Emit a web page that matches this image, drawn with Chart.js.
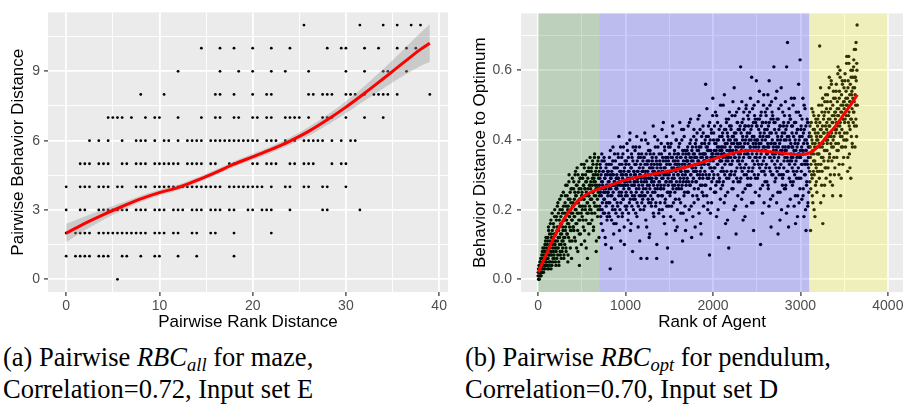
<!DOCTYPE html>
<html>
<head>
<meta charset="utf-8">
<script src="https://cdn.jsdelivr.net/npm/chart.js@4.4.0/dist/chart.umd.min.js"></script>
<style>
  body { margin: 0; background: #fff; width: 907px; height: 405px; position: relative; overflow: hidden; }
  canvas { position: absolute; top: 0; }
  #chartA { left: 0; }
  #chartB { left: 455px; }
  .cap { position: absolute; top: 341px; font-family: "Liberation Serif", serif; font-size: 26.5px; line-height: 32px; color: #000; white-space: nowrap; }
  .cap sub { font-size: 0.7em; vertical-align: -0.28em; line-height: 0; }
</style>
</head>
<body>
<canvas id="chartA" width="455" height="340" style="width:455px;height:340px"></canvas>
<canvas id="chartB" width="452" height="340" style="width:452px;height:340px"></canvas>
<div class="cap" style="left:3px">(a) Pairwise <i>RBC<sub>all</sub></i> for maze,<br>Correlation=0.72, Input set E</div>
<div class="cap" style="left:465px">(b) Pairwise <i>RBC<sub>opt</sub></i> for pendulum,<br>Correlation=0.70, Input set D</div>
<script>
// ---- panel (a): maze, pairwise rank distance vs behavior distance ----
// ranks found at each behavior distance level (row index = behavior distance)
const rankAtLevel = [
  [5.5],
  [0, 1, 1.5, 2, 2.5, 3.5, 4, 4.5, 6, 6.5, 8, 9.5, 10, 12, 14, 18],
  [0, 1, 1.5, 2, 2.5, 3.5, 4, 4.5, 5, 5.5, 6, 6.5, 7, 7.5, 8, 8.5, 9.5, 10, 10.5, 11.5, 12, 13.5, 14, 15.5, 16, 18, 22],
  [0, 1.5, 2, 3.5, 4, 4.5, 5, 5.5, 6, 6.5, 7.5, 8, 8.5, 9.5, 10, 10.5, 11.5, 12, 12.5, 13.5, 14, 14.5, 15.5, 16, 16.5, 17.5, 18, 19.5, 20, 21, 21.5, 22, 24, 27.5, 28, 31.5],
  [0, 1.5, 2, 2.5, 3.5, 4, 4.5, 5.5, 6, 7.5, 8, 8.5, 9.5, 10, 10.5, 11, 11.5, 12, 12.5, 13, 13.5, 14, 14.5, 15, 15.5, 16, 16.5, 17.5, 18, 18.5, 19, 19.5, 20, 20.5, 21, 22, 23.5, 24, 25.5, 26, 27.5, 28, 30],
  [1.5, 2, 2.5, 3.5, 4, 4.5, 6, 6.5, 7.5, 8, 8.5, 9.5, 10, 10.5, 11, 11.5, 12, 13, 13.5, 14, 14.5, 15.5, 16, 17.5, 18, 20, 20.5, 21.5, 22, 22.5, 24, 24.5, 25.5, 26, 26.5, 28.5, 29.5, 30],
  [2.5, 3.5, 4.5, 6, 7.5, 8, 8.5, 9.5, 10.5, 11, 12, 13, 13.5, 14, 14.5, 15.5, 16, 16.5, 17, 17.5, 18, 18.5, 19, 19.5, 20, 20.5, 21.5, 22, 22.5, 23.5, 24.5, 25.5, 26, 26.5, 27, 27.5, 28.5, 29.5, 30.5, 31],
  [4.5, 5, 5.5, 6, 7, 8.5, 9.5, 10, 12, 14.5, 16, 16.5, 18, 18.5, 20, 20.5, 21.5, 22, 23.5, 24, 24.5, 25, 26, 27.5, 28, 28.5, 30, 32, 34],
  [8, 10.5, 16, 16.5, 18, 20, 21.5, 22, 26, 26.5, 27.5, 28, 28.5, 30, 30.5, 31, 32, 33, 33.5, 34, 34.5, 35.5, 39],
  [12, 16.5, 18.5, 20, 22, 23.5, 26, 30, 32, 34, 34.5, 36.5],
  [14.5, 16.5, 18, 20, 22, 24, 28, 29.5, 30, 32, 33.5, 35.5, 36.5, 37.5],
  [25.5, 31.5, 34, 35.5, 37, 38]
];
// loess fit + confidence band
const smoothRankA = [0, 2, 4, 6, 8, 10, 12, 14, 16, 18, 20, 22, 24, 26, 28, 30, 32, 34, 36, 38, 39];
const smoothDistA = [2.00, 2.42, 2.80, 3.15, 3.48, 3.75, 3.97, 4.28, 4.62, 4.98, 5.30, 5.62, 5.98, 6.40, 6.90, 7.45, 8.05, 8.68, 9.32, 9.95, 10.22];
const bandLowA = [1.60, 2.12, 2.58, 2.98, 3.34, 3.62, 3.85, 4.16, 4.50, 4.86, 5.17, 5.48, 5.82, 6.21, 6.68, 7.19, 7.73, 8.26, 8.77, 9.23, 9.40];
const bandHighA = [2.40, 2.72, 3.02, 3.32, 3.62, 3.88, 4.09, 4.40, 4.74, 5.10, 5.43, 5.76, 6.14, 6.59, 7.12, 7.71, 8.37, 9.10, 9.87, 10.67, 11.04];
const xMajorA = [0, 10, 20, 30, 40];
const xMinorA = [5, 15, 25, 35];
const yMajorA = [0, 3, 6, 9];
const yMinorA = [1.5, 4.5, 7.5, 10.5];

// ---- panel (b): pendulum, rank of agent vs distance to optimum ----
// distance to optimum in hundredths; two interleaved passes, every 4th rank each
const rankStep = 4;
const distGreen = [ // ranks 0..696
  1,3,2,0,4,2,5,1,3,6,2,4,8,3,5,2,7,4,9,3,6,11,4,8,5,
  6,10,3,12,7,14,5,9,4,11,16,8,3,13,7,19,10,5,12,8,15,6,18,9,13,
  11,4,17,9,14,21,7,12,19,5,15,10,23,8,13,18,6,16,11,20,9,14,25,12,7,
  17,10,22,14,27,8,19,13,24,16,5,21,12,28,18,15,23,9,20,26,14,17,11,29,19,
  22,15,28,18,12,25,20,31,16,24,9,27,19,14,30,22,17,26,4,21,29,13,23,19,33,
  24,18,30,21,15,27,23,32,11,26,20,28,17,25,34,22,6,29,19,24,13,31,21,27,16,
  26,20,31,23,17,29,25,33,14,28,22,35,19,27,30,24,8,32,21,26,18,34,25,29,12
];
const distGreen2 = [ // ranks 2..698
  2,0,4,1,3,5,2,6,1,4,7,3,5,9,2,6,4,8,3,10,5,7,12,4,9,
  8,4,11,6,15,3,9,13,7,10,5,17,8,12,4,14,9,6,16,11,7,13,20,10,5,
  13,8,18,6,15,11,22,9,14,4,17,12,20,7,16,10,24,13,8,19,15,11,21,6,17,
  19,12,24,15,9,21,17,27,13,20,7,23,16,30,18,11,25,14,22,19,6,26,17,21,15,
  21,26,14,23,18,30,11,24,20,27,16,32,22,8,25,19,28,13,23,17,29,21,26,10,24,
  25,20,29,17,27,23,33,14,26,21,30,24,9,28,19,31,22,26,16,32,24,27,20,35,23,
  28,23,32,19,27,34,25,30,15,29,24,36,21,28,31,26,11,33,27,23,30,20,35,26,31
];
const distBlue = [ // ranks 700..3096
  27,21,33,25,18,30,24,36,20,28,14,31,26,23,34,19,29,25,10,32,22,27,17,30,24,
  25,31,19,28,35,22,3,29,26,33,17,24,30,21,38,27,13,32,23,28,20,34,26,16,29,
  30,22,27,36,18,29,41,25,33,20,28,11,31,24,35,27,19,30,23,38,26,15,32,28,21,
  27,33,20,30,39,24,29,17,35,26,31,22,40,28,14,32,25,36,21,29,8,34,27,23,31,
  30,24,37,28,19,33,26,41,22,31,29,15,35,27,24,38,30,20,33,6,28,36,25,31,23,
  32,26,20,35,29,42,24,31,17,36,28,6,33,25,39,30,22,34,27,13,37,29,24,32,21,
  28,35,23,31,44,27,18,33,30,25,38,21,29,34,6,32,26,40,24,30,19,36,28,33,22,
  33,27,39,24,31,20,35,29,45,26,32,16,37,30,23,34,28,41,21,31,9,35,27,38,25,
  30,36,24,33,18,39,28,31,5,35,27,42,22,32,29,37,25,34,14,31,40,26,33,20,36,
  34,27,38,23,32,45,29,35,19,31,26,40,33,11,36,28,43,24,32,37,21,30,35,27,17,
  31,37,25,34,44,28,36,20,33,39,27,46,30,35,12,32,38,24,34,29,41,22,36,31,15,
  35,28,40,31,24,37,33,46,26,34,19,38,30,43,27,35,13,32,39,25,36,29,42,21,34,
  33,39,27,36,56,30,41,24,35,38,20,33,44,29,37,7,32,40,26,35,43,22,36,31,47,
  36,29,42,32,25,39,35,48,27,37,18,40,33,45,30,36,12,38,28,41,34,23,44,31,37,
  34,41,27,38,50,31,36,22,43,33,39,16,35,46,29,37,42,25,34,40,9,36,48,30,38,
  37,30,44,33,26,41,36,51,28,39,20,42,35,47,31,38,13,40,29,45,34,24,43,36,49,
  35,43,28,39,61,32,37,23,45,34,41,17,38,48,30,36,44,26,40,33,50,21,37,42,29,
  39,31,46,35,27,42,38,52,29,40,22,44,36,49,32,39,14,41,30,47,35,25,45,38,57,
  36,44,29,40,51,33,38,24,46,35,42,10,39,48,31,37,45,27,41,34,53,22,38,43,30,
  40,32,47,36,28,43,38,53,26,41,21,45,35,50,31,39,15,42,30,48,36,24,46,37,61,
  35,43,28,39,52,32,37,22,46,34,41,13,38,49,30,36,44,25,40,33,55,20,37,42,29,
  38,30,45,34,26,42,37,51,27,40,19,44,35,68,31,38,15,41,29,47,34,23,46,36,52,
  34,42,27,38,50,31,36,21,45,33,40,16,37,48,29,35,43,24,39,32,56,22,36,41,63,
  37,29,44,33,23,41,36,52,26,39,18,43,34,49,30,37,14,40,28,46,33,21,45,35,25
];
const distBlue2 = [ // ranks 702..3098
  24,29,20,32,26,16,28,34,22,27,31,19,25,35,23,29,12,30,26,21,33,27,18,31,25,
  28,22,33,26,18,30,37,24,29,9,31,27,20,34,25,30,16,28,36,23,27,32,19,29,26,
  26,32,21,29,35,24,28,14,31,27,38,22,30,25,33,18,29,36,23,27,31,10,28,34,24,
  30,25,34,21,28,37,27,31,19,33,26,29,42,23,30,16,32,27,35,24,29,38,20,31,28,
  27,33,23,30,38,25,29,18,34,28,31,21,36,26,32,11,30,35,24,29,40,22,31,27,34,
  31,24,35,28,21,33,30,40,26,29,15,34,27,31,23,37,29,12,32,26,36,30,22,33,28,
  29,34,25,32,19,36,28,31,41,26,30,22,35,29,10,33,27,38,24,31,28,20,34,30,26,
  32,26,36,29,43,24,31,34,18,30,27,38,22,32,35,28,13,33,30,25,39,29,34,21,31,
  33,28,38,25,31,35,21,32,29,44,26,34,30,17,36,27,33,23,31,40,28,35,15,32,30,
  30,36,26,33,39,28,31,22,35,32,43,27,30,37,19,34,29,41,25,33,31,14,36,28,34,
  34,29,38,31,25,36,33,45,27,35,30,40,21,34,37,28,32,18,36,31,43,26,35,33,39,
  32,38,28,35,42,30,34,23,37,33,47,29,36,31,16,38,33,41,27,35,30,44,24,36,34,
  36,31,40,34,27,38,35,49,29,37,22,41,33,39,30,45,34,19,37,32,42,28,36,35,52,
  34,40,30,37,44,32,35,25,39,36,47,28,38,33,20,40,35,43,29,37,34,50,26,38,36,
  37,32,42,35,28,40,36,53,30,38,24,43,34,45,31,39,17,41,35,46,29,37,44,33,40,
  35,43,31,39,47,34,37,26,41,36,55,30,40,35,21,42,37,48,32,39,45,28,38,34,43,
  39,33,44,36,29,42,38,51,31,40,25,46,35,43,32,39,18,44,37,49,30,41,36,27,47,
  36,44,32,40,48,35,38,27,43,37,58,31,41,34,22,45,38,50,33,40,46,29,39,35,44,
  40,34,46,37,30,43,39,54,32,41,26,47,36,44,33,40,19,45,38,50,31,42,35,28,48,
  37,45,33,41,49,36,39,27,44,38,57,32,42,35,23,46,39,51,34,40,47,30,38,36,45,
  39,33,45,36,29,42,38,54,31,40,25,46,35,43,32,39,17,44,37,50,30,41,36,27,48,
  36,44,32,40,47,35,38,26,43,37,61,31,41,34,21,45,38,49,33,40,46,28,39,35,44,
  38,32,44,35,28,41,37,52,30,39,24,45,34,42,31,38,18,43,36,48,29,40,35,26,47,
  35,43,31,38,46,33,37,24,42,36,50,30,40,33,20,44,37,27,34,39,45,22,38,32,41
];
const distYellow = [ // ranks 3100..3648
  35,42,28,38,14,33,45,30,40,24,37,48,31,36,20,43,34,39,27,46,32,41,25,38,44,
  40,33,47,36,29,67,38,43,22,41,35,50,31,44,16,39,46,34,42,27,48,37,53,32,40,
  43,37,51,40,32,46,41,55,35,44,28,49,39,57,42,34,47,24,45,38,52,41,30,48,43,
  46,39,54,43,35,49,44,59,37,47,30,52,42,60,45,24,50,38,48,41,56,33,46,51,40,
  49,42,57,46,38,52,47,62,40,50,31,55,45,64,48,36,53,43,51,29,58,46,54,39,60,
  52,45,61,48,66,55,38,58,50,68,44,62,73
];
const distYellow2 = [ // ranks 3102..3650
  38,31,44,35,26,41,36,49,29,39,22,43,34,47,30,38,18,42,33,45,28,40,36,31,46,
  42,36,50,39,31,45,41,55,33,43,27,48,38,52,35,42,24,47,37,51,32,44,40,29,49,
  45,39,53,42,34,48,44,58,36,46,30,51,41,56,38,45,27,50,40,54,35,47,43,32,52,
  48,42,56,45,37,51,47,61,39,49,33,54,44,58,41,48,29,53,43,57,38,50,46,35,55,
  51,45,59,48,40,54,50,64,42,52,35,57,47,62,44,51,32,56,46,60,41,53,49,38,58,
  55,48,63,51,44,58,53,66,46,57,41,60,50
];
const smoothRankB = [0, 100, 200, 300, 400, 500, 600, 700, 800, 900, 1000, 1200, 1400, 1600, 1800, 2000, 2200, 2400, 2600, 2800, 3000, 3100, 3200, 3300, 3400, 3500, 3600, 3650];
const smoothDistB = [0.02, 0.075, 0.13, 0.175, 0.21, 0.235, 0.25, 0.26, 0.268, 0.277, 0.285, 0.297, 0.306, 0.316, 0.33, 0.345, 0.36, 0.37, 0.368, 0.362, 0.358, 0.362, 0.38, 0.41, 0.44, 0.475, 0.51, 0.53];
const zoneFrom = [0, 700, 3100];
const zoneTo = [700, 3100, 4000];
const zoneColors = ['rgba(0,100,0,0.2)', 'rgba(0,0,255,0.2)', 'rgba(255,255,0,0.2)'];
const xMajorB = [0, 1000, 2000, 3000, 4000];
const xMinorB = [500, 1500, 2500, 3500];
const yMajorB = [0, 0.2, 0.4, 0.6];
const yMinorB = [0.1, 0.3, 0.5, 0.7];

const sans = 'Liberation Sans, Arial, sans-serif';

const panelBg = {
  id: 'panelBg',
  beforeDraw(chart) {
    const { ctx, chartArea: a } = chart;
    ctx.save();
    ctx.fillStyle = '#ebebeb';
    ctx.fillRect(a.left, a.top, a.right - a.left, a.bottom - a.top);
    ctx.restore();
  }
};

// shaded rank zones, painted over the points like the ggplot layers
const zoneShade = {
  id: 'zoneShade',
  afterDatasetDraw(chart, args) {
    if (args.index !== 0) return;
    const { ctx, chartArea: a, scales: { x } } = chart;
    ctx.save();
    zoneFrom.forEach((from, i) => {
      const x0 = x.getPixelForValue(from);
      const x1 = x.getPixelForValue(zoneTo[i]);
      ctx.fillStyle = zoneColors[i];
      ctx.fillRect(x0, a.top, x1 - x0, a.bottom - a.top);
    });
    ctx.restore();
  }
};

function isIn(list, v) {
  return list.some(m => Math.abs(m - v) < 1e-9);
}

function makeAxis(major, minor, min, max, fmt, fit, title, titlePad) {
  const horizontal = fit.height !== undefined;
  return {
    type: 'linear',
    min: min,
    max: max,
    afterBuildTicks: s => {
      s.ticks = major.concat(minor).sort((a, b) => a - b).map(v => ({ value: v }));
    },
    afterFit: s => {
      if (horizontal) s.height = fit.height; else s.width = fit.width;
    },
    border: { display: false },
    grid: {
      color: '#ffffff',
      lineWidth: c => isIn(major, c.tick.value) ? 1.8 : 0.9,
      tickColor: c => isIn(major, c.tick.value) ? '#333333' : 'rgba(0,0,0,0)',
      tickLength: 4,
      tickWidth: 1.2
    },
    ticks: {
      autoSkip: false,
      maxRotation: 0,
      padding: fit.pad,
      color: '#4d4d4d',
      font: { family: sans, size: 14 },
      callback: v => isIn(major, v) ? fmt(v) : ''
    },
    title: {
      display: true,
      text: title,
      color: '#000000',
      font: { family: sans, size: 17 },
      padding: titlePad
    }
  };
}

// panel (a)
const mazePoints = [];
rankAtLevel.forEach((ranks, level) => ranks.forEach(r => mazePoints.push({ x: r, y: level })));

new Chart(document.getElementById('chartA'), {
  type: 'scatter',
  data: {
    datasets: [
      { data: mazePoints, pointRadius: 1.4, backgroundColor: '#000000', borderWidth: 0, order: 4 },
      { data: smoothRankA.map((r, i) => ({ x: r, y: bandLowA[i] })), showLine: true, pointRadius: 0,
        borderWidth: 0, borderColor: 'rgba(0,0,0,0)', tension: 0.4, fill: false, order: 3 },
      { data: smoothRankA.map((r, i) => ({ x: r, y: bandHighA[i] })), showLine: true, pointRadius: 0,
        borderWidth: 0, borderColor: 'rgba(0,0,0,0)', tension: 0.4, fill: '-1',
        backgroundColor: 'rgba(153,153,153,0.4)', order: 2 },
      { data: smoothRankA.map((r, i) => ({ x: r, y: smoothDistA[i] })), showLine: true, pointRadius: 0,
        borderColor: '#ff0000', borderWidth: 3, cubicInterpolationMode: 'monotone', order: 1 }
    ]
  },
  options: {
    responsive: false,
    animation: false,
    events: [],
    layout: { padding: { top: 11, right: 7, bottom: 0, left: 0 } },
    plugins: { legend: { display: false }, tooltip: { enabled: false } },
    scales: {
      x: makeAxis(xMajorA, xMinorA, -1.95, 40.95, v => String(v), { height: 48, pad: 2 },
        'Pairwise Rank Distance', { top: 0, bottom: 7 }),
      y: makeAxis(yMajorA, yMinorA, -0.55, 11.55, v => String(v), { width: 48, pad: 4 },
        'Pairwise Behavior Distance', { top: 8, bottom: 0 })
    }
  },
  plugins: [panelBg]
});

// panel (b)
const pendPoints = [];
[[0, distGreen], [2, distGreen2], [700, distBlue], [702, distBlue2],
 [3100, distYellow], [3102, distYellow2]].forEach(([start, arr]) => {
  arr.forEach((d, i) => pendPoints.push({ x: start + i * rankStep, y: d / 100 }));
});

new Chart(document.getElementById('chartB'), {
  type: 'scatter',
  data: {
    datasets: [
      { data: pendPoints, pointRadius: 1.7, backgroundColor: '#000000', borderWidth: 0, order: 2 },
      { data: smoothRankB.map((r, i) => ({ x: r, y: smoothDistB[i] })), showLine: true, pointRadius: 0,
        borderColor: '#ff0000', borderWidth: 3, cubicInterpolationMode: 'monotone', order: 1 }
    ]
  },
  options: {
    responsive: false,
    animation: false,
    events: [],
    layout: { padding: { top: 11, right: 0, bottom: 0, left: 0 } },
    plugins: { legend: { display: false }, tooltip: { enabled: false } },
    scales: {
      x: makeAxis(xMajorB, xMinorB, -196, 4173, v => String(v), { height: 48, pad: 2 },
        'Rank of Agent', { top: 0, bottom: 7 }),
      y: makeAxis(yMajorB, yMinorB, -0.0364, 0.7634, v => v.toFixed(1), { width: 66, pad: 5 },
        'Behavior Distance to Optimum', { top: 15, bottom: 0 })
    }
  },
  plugins: [panelBg, zoneShade]
});
</script>
</body>
</html>
